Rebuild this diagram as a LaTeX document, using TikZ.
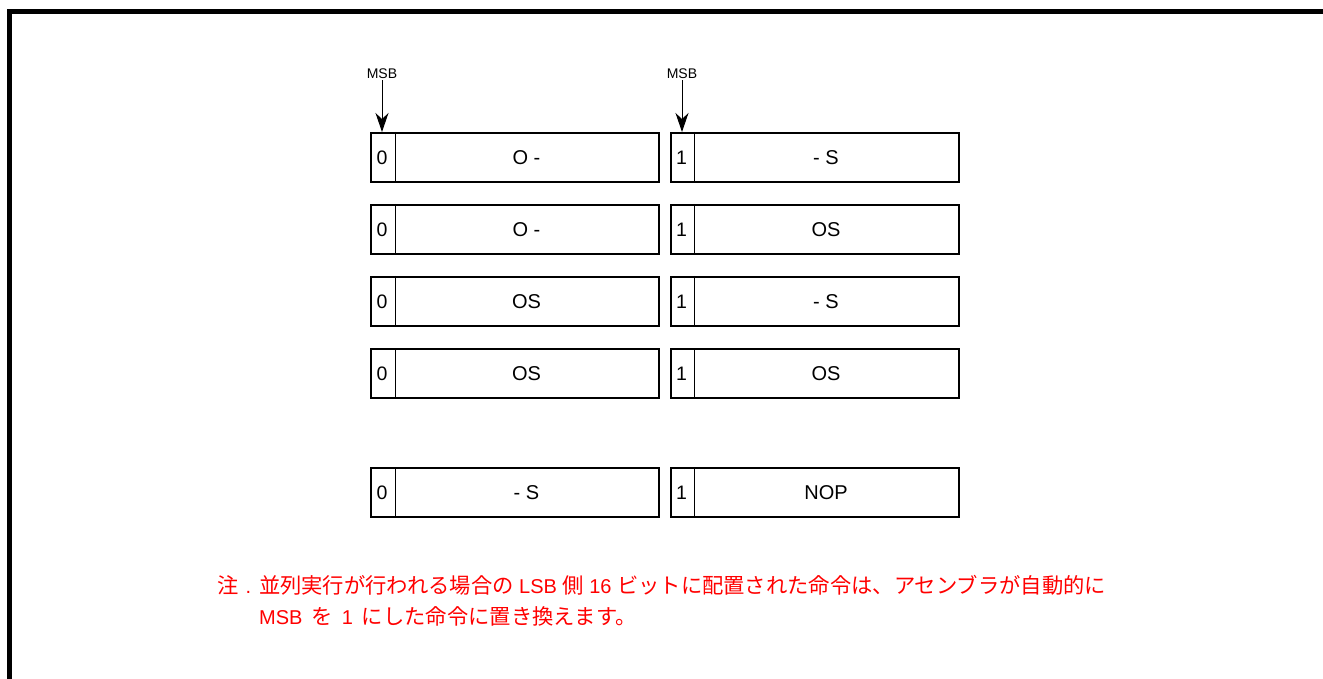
\documentclass[tikz,border=0pt]{standalone}
\usepackage{fontspec}
\setmainfont{Liberation Sans}
\newfontfamily\cjk{Noto Sans CJK JP}
\usetikzlibrary{arrows.meta}
\definecolor{notered}{RGB}{255,0,0}
\newcommand\jp[1]{{\cjk\fontsize{21.3}{22}\selectfont #1}}
\begin{document}
\begin{tikzpicture}[x=1pt,y=-1pt,
  frameline/.style={line width=5.5pt},
  wordbox/.style={draw, line width=1.8pt, minimum width=288pt, minimum height=49pt, inner sep=0pt, anchor=north west},
  divider/.style={line width=1pt},
  bittext/.style={font=\fontsize{19.5}{21}\selectfont, inner sep=0pt},
  optext/.style={font=\fontsize{20}{22}\selectfont, inner sep=0pt},
  msbtext/.style={font=\fontsize{14}{15}\selectfont, inner sep=1pt},
  msbarrow/.style={line width=1pt, -{Stealth[length=19pt,width=13pt,inset=6pt]}},
  note/.style={text=notered, font=\fontsize{20}{22}\selectfont, inner sep=0pt, anchor=base west}
]
\path[use as bounding box] (0,0) rectangle (1323,679);
\draw[frameline] (9.5,679) -- (9.5,11.5) -- (1323,11.5);

\foreach \r/\y/\a/\b in {1/132/O -/- S, 2/204/O -/OS, 3/276/OS/- S, 4/348/OS/OS, 5/467/- S/NOP}{
  \node[wordbox] (L\r) at (370,\y) {};
  \draw[divider] ([xshift=25pt]L\r.north west) -- ([xshift=25pt]L\r.south west);
  \node[bittext] (Lb\r) at ([xshift=12pt]L\r.west) {0};
  \node[optext] (Lo\r) at ([xshift=156.5pt]L\r.west) {\a};
  \node[wordbox] (R\r) at (670,\y) {};
  \draw[divider] ([xshift=24pt]R\r.north west) -- ([xshift=24pt]R\r.south west);
  \node[bittext] (Rb\r) at ([xshift=11.5pt]R\r.west) {1};
  \node[optext] (Ro\r) at ([xshift=156pt]R\r.west) {\b};
}

\node[msbtext] (m1) at (382,74) {MSB};
\node[msbtext] (m2) at (682,74) {MSB};
\coordinate (t1) at ([xshift=12pt]L1.north west);
\coordinate (t2) at ([xshift=12pt]R1.north west);
\draw[msbarrow] (m1.south) -- (t1);
\draw[msbarrow] (m2.south) -- (t2);

\node[note] (n1) at (217,593) {\jp{注}\hspace{7pt}.\hspace{8pt}\jp{並列実行が行われる場合の} LSB \jp{側} 16 \jp{ビットに配置された命令は、アセンブラが自動的に}};
\node[note] (n2) at (259,624) {MSB\hspace{9pt}\jp{を}\hspace{9pt}1\hspace{9pt}\jp{にした命令に置き換えます。}};
\end{tikzpicture}
\end{document}
